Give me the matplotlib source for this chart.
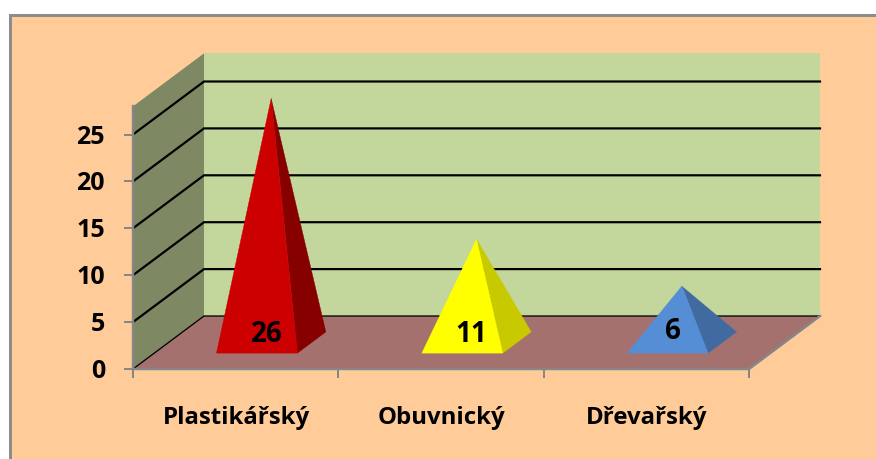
import matplotlib
matplotlib.use("Agg")
import matplotlib.pyplot as plt
from matplotlib.patches import Polygon, Rectangle

categories = ["Plastikářský", "Obuvnický", "Dřevařský"]
values = [26, 11, 6]
y_ticks = [0, 5, 10, 15, 20, 25]
face_colors = ["#CC0000", "#FFFF00", "#558ED5"]
side_colors = ["#870000", "#C9C900", "#416BA0"]
label_dx = [50.5, 49.5, 46]
label_dy = [-20, -20, -23]

W, H = 876, 460
X0, Y0 = 133, 370          # front-left origin of the plot box, pixels
CAT_W = 616 / 3            # pixels per category
UNIT = 46.9 / 5            # pixels per value unit
DX, DY = 71, -53           # depth vector, pixels
YMAX = 28


def P(cat, val=0.0, depth=0.0):
    """Oblique projection from chart space to pixels."""
    return (X0 + cat * CAT_W + depth * DX, Y0 - val * UNIT + depth * DY)


fig = plt.figure(figsize=(W / 100, H / 100), dpi=100, facecolor="white")
ax = fig.add_axes([0, 0, 1, 1])
ax.set_xlim(0, W)
ax.set_ylim(H, 0)
ax.axis("off")
px = 0.72
FONT = "Open Sans"
GRAY = "#868686"

# frame: only the top and left edges fall inside the picture
ax.add_patch(Rectangle((9.6, 15.5), W + 20, H + 20, fc="#FFCC99", ec="#8C8C8C", lw=3 * px))

# walls and floor
ncat = len(categories)
ax.add_patch(Polygon([P(0, 0, 1), P(ncat, 0, 1), P(ncat, YMAX, 1), P(0, YMAX, 1)], fc="#C3D69B", ec="none"))
ax.add_patch(Polygon([P(0, 0, 0), P(0, 0, 1), P(0, YMAX, 1), P(0, YMAX, 0)], fc="#7E8863", ec="none"))
ax.add_patch(Polygon([P(0, 0, 0), P(ncat, 0, 0), P(ncat, 0, 1), P(0, 0, 1)], fc="#A5716F", ec="none"))

# gridlines
for v in y_ticks:
    pts = [P(0, v, 0), P(0, v, 1), P(ncat, v, 1)]
    ax.plot(*zip(*pts), color="black", lw=(1.3 if v == 0 else 2.2) * px, solid_joinstyle="miter", zorder=2)

# axes
ax.plot(*zip(P(0, 0, 0), P(0, YMAX, 0)), color=GRAY, lw=2.4 * px, zorder=3)
ax.plot(*zip(P(0, 0, 0), P(ncat, 0, 0), P(ncat, 0, 1)), color=GRAY, lw=2.4 * px, zorder=3)
for v in y_ticks:
    x, y = P(0, v, 0)
    ax.plot([x - 8, x], [y, y], color=GRAY, lw=2 * px, zorder=3)
    ax.text(x - 28, y + 1.5, str(v), ha="right", va="center", family=FONT, weight="bold", fontsize=18, color="black")
for c in range(ncat + 1):
    x, y = P(c, 0, 0)
    ax.plot([x, x], [y, y + 8], color=GRAY, lw=2 * px, zorder=3)

# pyramids
HALF = 0.197
D_FRONT, D_MID, D_BACK = 0.3, 0.5, 0.7
for i, (name, v, fc, sc) in enumerate(zip(categories, values, face_colors, side_colors)):
    c = i + 0.5
    apex = P(c, v, D_MID)
    fl, fr, br = P(c - HALF, 0, D_FRONT), P(c + HALF, 0, D_FRONT), P(c + HALF, 0, D_BACK)
    ax.add_patch(Polygon([fr, br, apex], fc=sc, ec=sc, lw=0.3, zorder=4))
    ax.add_patch(Polygon([fl, fr, apex], fc=fc, ec=fc, lw=0.3, zorder=5))
    ax.text(fl[0] + label_dx[i], fl[1] + label_dy[i], str(v), ha="center", va="center", family=FONT,
            weight="bold", fontsize=20, color="black", zorder=6)
    x, _ = P(c, 0, 0)
    ax.text(x + 0.5, 418, name, ha="center", va="center", family=FONT, weight="bold", fontsize=17.3, color="black")

fig.savefig("out.png", dpi=100, facecolor="white")
